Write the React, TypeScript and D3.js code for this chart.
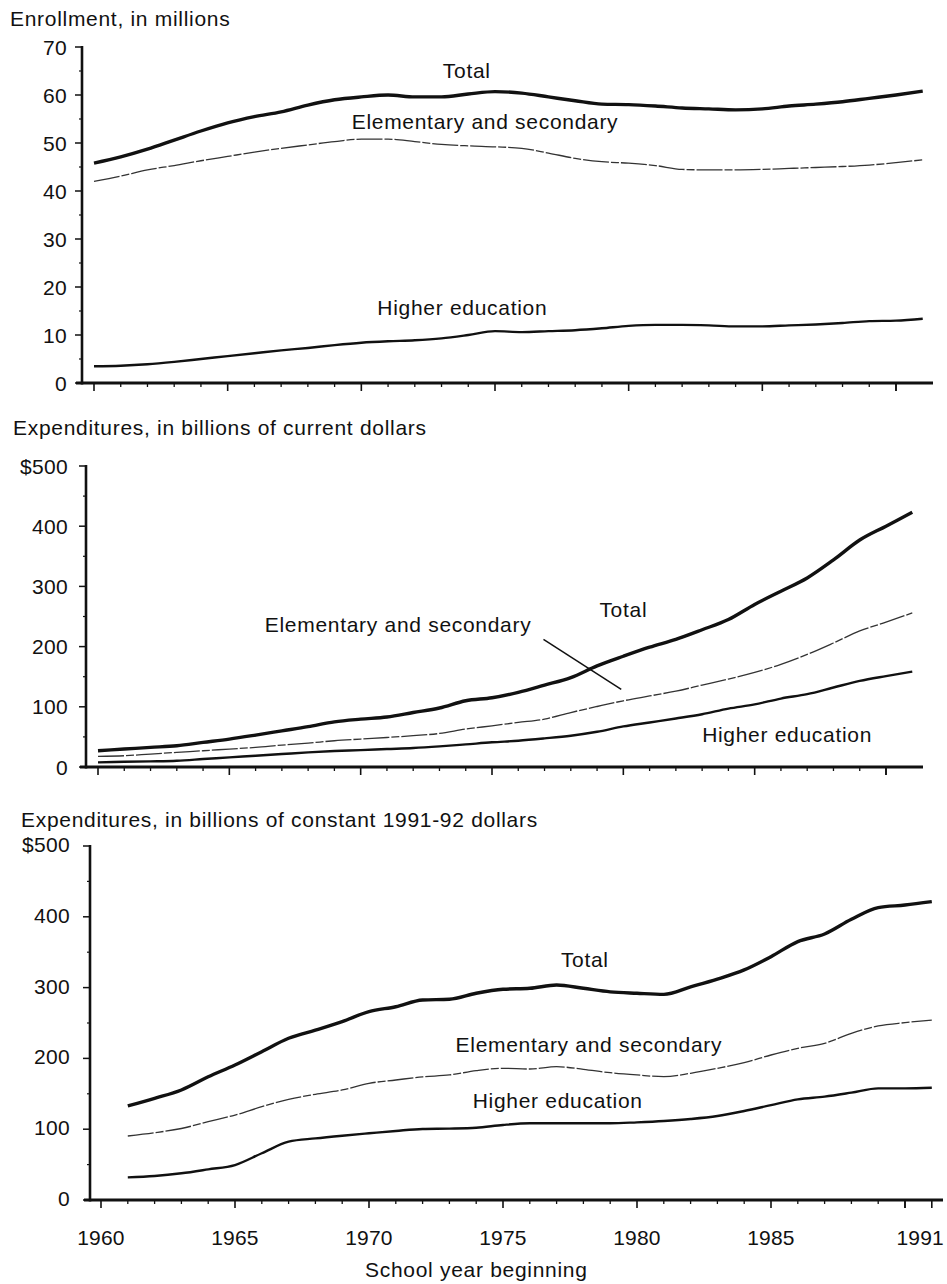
import React from 'react';
import * as d3 from 'd3';

// school years shown in the first two panels
const years = [
  1960, 1961, 1962, 1963, 1964, 1965, 1966, 1967, 1968, 1969, 1970,
  1971, 1972, 1973, 1974, 1975, 1976, 1977, 1978, 1979, 1980,
  1981, 1982, 1983, 1984, 1985, 1986, 1987, 1988, 1989, 1990, 1991,
];
// constant-dollar series start one year later
const yearsConst = years.slice(1);

// Enrollment, in millions
const enrollTotal = [45.8, 47.1, 48.7, 50.6, 52.5, 54.2, 55.5, 56.5, 57.9, 59.0, 59.6, 60.0, 59.6, 59.6, 60.2, 60.7, 60.4, 59.6, 58.8, 58.1, 58.0, 57.7, 57.3, 57.1, 56.9, 57.1, 57.7, 58.1, 58.6, 59.3, 60.0, 60.8];
const enrollElSec = [42.0, 43.1, 44.4, 45.3, 46.3, 47.2, 48.1, 48.9, 49.6, 50.3, 50.8, 50.8, 50.3, 49.7, 49.4, 49.2, 48.9, 47.9, 46.8, 46.1, 45.8, 45.3, 44.5, 44.4, 44.4, 44.5, 44.7, 44.9, 45.1, 45.4, 45.9, 46.5];
const enrollHigher = [3.5, 3.6, 3.9, 4.4, 5.0, 5.6, 6.2, 6.8, 7.3, 7.9, 8.4, 8.7, 8.9, 9.3, 10.0, 10.8, 10.6, 10.8, 11.0, 11.4, 11.9, 12.1, 12.1, 12.0, 11.8, 11.8, 12.0, 12.2, 12.5, 12.9, 13.0, 13.4];

// Expenditures, billions of current dollars
const curTotal = [27, 29.8, 32.6, 35.3, 40.9, 46.4, 53, 60, 67, 75, 79.5, 83, 90.5, 98, 110, 115, 124, 136, 148.5, 168, 184, 199, 212, 228, 245, 270, 292, 314, 344, 377, 400, 423];
const curElSec = [17.7, 18.7, 21.5, 24.3, 27, 29.8, 32.6, 36.4, 39.7, 43.6, 46.4, 49, 52, 55.7, 63, 68.4, 74, 79.5, 90.5, 100.5, 110, 118, 126, 136, 146, 157, 170.5, 187, 206, 226, 240.6, 256];
const curHigher = [7.7, 8.6, 9.4, 10.5, 13.2, 16, 18.7, 21.5, 24.3, 26.5, 28, 29.8, 31.5, 34.2, 37.5, 41, 43.6, 47.5, 52, 58.5, 67.4, 74, 80.6, 87.7, 97, 104, 113.7, 121, 132, 143, 151, 158.4];

// Expenditures, billions of constant 1991-92 dollars
const constTotal = [132.8, 143.6, 155.4, 174, 190.7, 209.5, 228.4, 240, 252, 266, 273, 282.5, 283.5, 292, 297.6, 299, 303.7, 299, 294, 292, 290.5, 301, 312, 325, 343.7, 365, 375.7, 396.4, 413, 416.6, 421.4];
const constElSec = [90.4, 95, 101, 110.6, 120, 131.8, 142.2, 149.3, 155.4, 164.8, 169.5, 174, 176.6, 182.7, 186, 185, 188.3, 184.6, 179.8, 176.6, 174.2, 179, 186, 194, 204.8, 214.2, 221.3, 235.4, 245.8, 250.5, 254];
const constHigher = [32, 33.9, 37.7, 43.3, 49.4, 66, 82.4, 87, 90.8, 94.2, 97.5, 100.3, 100.8, 102, 106, 108.3, 108.3, 108.3, 108.3, 109.7, 111.6, 114.4, 118.6, 125.7, 134, 142.2, 146, 151.6, 157.7, 157.7, 158.6];

// axis ticks
const enrollTicks = [0, 10, 20, 30, 40, 50, 60, 70];
const dollarTicks = [0, 100, 200, 300, 400, 500];
const yearTickLabels = [1960, 1965, 1970, 1975, 1980, 1985, 1991];

const FONT = "'Liberation Sans', Arial, Helvetica, sans-serif";
const INK = '#111';

type Label = { text: string; year: number; value: number };

type PanelProps = {
  title: string;
  titleX: number;
  titleY: number;
  xRange: [number, number];
  yRange: [number, number];
  yMax: number;
  yTicks: number[];
  yFormat: (v: number) => string;
  axisX: number;
  axisEnd: number;
  labelGap: number;
  labelDy: number;
  lastMajor: number[];
  xs: number[];
  total: number[];
  elsec: number[];
  higher: number[];
  labels: Label[];
  leader?: [number, number, number, number];
  showYearLabels?: boolean;
};

const Panel = (p: PanelProps) => {
  const x = d3.scaleLinear().domain([1960, 1990]).range(p.xRange);
  const y = d3.scaleLinear().domain([0, p.yMax]).range(p.yRange);
  const y0 = y(0);
  const line = (vals: number[]) =>
    d3.line<number>()
      .x((_, i) => x(p.xs[i]))
      .y((d) => y(d))
      .curve(d3.curveMonotoneX)(vals) || '';

  const step = p.yTicks[1] - p.yTicks[0];
  const minorY = p.yTicks.slice(1).map((t) => t - step / 2);
  const xTickYears = d3.range(1960, 1991);
  const lastLabel = yearTickLabels[yearTickLabels.length - 1];

  return (
    <g>
      <text x={p.titleX} y={p.titleY} fontSize={21} letterSpacing={0.7} fill={INK}>
        {p.title}
      </text>
      {/* y axis */}
      <line x1={p.axisX} x2={p.axisX} y1={y(p.yMax) - 1} y2={y0 + 1.5} stroke={INK} strokeWidth={2.6} />
      {p.yTicks.map((t) => (
        <g key={'y' + t}>
          <line x1={p.axisX - 7} x2={p.axisX} y1={y(t)} y2={y(t)} stroke={INK} strokeWidth={1.5} />
          <text x={p.axisX - p.labelGap} y={y(t) + p.labelDy} textAnchor="end" fontSize={21} letterSpacing={0.3} fill={INK}>
            {p.yFormat(t)}
          </text>
        </g>
      ))}
      {minorY.map((t) => (
        <line key={'ym' + t} x1={p.axisX - 3} x2={p.axisX} y1={y(t)} y2={y(t)} stroke={INK} strokeWidth={1.2} />
      ))}
      {/* x axis */}
      <line x1={p.axisX - 6} x2={p.axisEnd} y1={y0} y2={y0} stroke={INK} strokeWidth={3} />
      {xTickYears.map((yr) => {
        const major = yr % 5 === 0;
        return (
          <line key={'x' + yr} x1={x(yr)} x2={x(yr)} y1={y0} y2={y0 + (major ? 8 : 4)} stroke={INK} strokeWidth={major ? 1.6 : 1.3} />
        );
      })}
      {p.lastMajor.map((yr) => (
        <line key={'xl' + yr} x1={x(yr)} x2={x(yr)} y1={y0} y2={y0 + 8} stroke={INK} strokeWidth={1.6} />
      ))}
      {p.showYearLabels &&
        yearTickLabels.map((yr) => (
          <text
            key={'xt' + yr}
            x={yr === lastLabel ? p.axisEnd + 1 : x(yr)}
            y={y0 + 45}
            textAnchor={yr === lastLabel ? 'end' : 'middle'}
            fontSize={21}
            letterSpacing={0.2}
            fill={INK}
          >
            {yr}
          </text>
        ))}
      {/* series */}
      <path d={line(p.higher)} fill="none" stroke={INK} strokeWidth={2.4} strokeLinejoin="round" />
      <path d={line(p.elsec)} fill="none" stroke="#333" strokeWidth={1.3} strokeDasharray="26 2 8 2" strokeLinejoin="round" />
      <path d={line(p.total)} fill="none" stroke={INK} strokeWidth={3.4} strokeLinejoin="round" />
      {p.leader && (
        <line
          x1={x(p.leader[0])} y1={y(p.leader[1])}
          x2={x(p.leader[2])} y2={y(p.leader[3])}
          stroke={INK} strokeWidth={1.5}
        />
      )}
      {p.labels.map((l) => (
        <text key={l.text} x={x(l.year)} y={y(l.value)} fontSize={21} letterSpacing={0.7} fill={INK}>
          {l.text}
        </text>
      ))}
    </g>
  );
};

export default function App() {
  return (
    <div style={{ position: 'absolute', left: 0, top: 0 }}>
      <svg width={947} height={1284} style={{ display: 'block', background: '#fff', fontFamily: FONT }}>
        <Panel
          title="Enrollment, in millions"
          titleX={10}
          titleY={26}
          xRange={[94, 896]}
          yRange={[383, 47]}
          yMax={70}
          yTicks={enrollTicks}
          yFormat={(v) => String(v)}
          axisX={82}
          axisEnd={933}
          labelGap={15}
          labelDy={7.5}
          lastMajor={[1990]}
          xs={years}
          total={enrollTotal}
          elsec={enrollElSec}
          higher={enrollHigher}
          labels={[
            { text: 'Total', year: 1973.05, value: 63.5 },
            { text: 'Elementary and secondary', year: 1969.64, value: 52.9 },
            { text: 'Higher education', year: 1970.6, value: 14.2 },
          ]}
        />
        <Panel
          title="Expenditures, in billions of current dollars"
          titleX={13}
          titleY={435}
          xRange={[98, 886]}
          yRange={[767, 466]}
          yMax={500}
          yTicks={dollarTicks}
          yFormat={(v) => (v === 500 ? '$500' : String(v))}
          axisX={86}
          axisEnd={923}
          labelGap={18}
          labelDy={7.5}
          lastMajor={[1990]}
          xs={years}
          total={curTotal}
          elsec={curElSec}
          higher={curHigher}
          leader={[1976.96, 212, 1979.92, 129]}
          labels={[
            { text: 'Total', year: 1979.09, value: 250 },
            { text: 'Elementary and secondary', year: 1966.35, value: 223.5 },
            { text: 'Higher education', year: 1983.0, value: 41.4 },
          ]}
        />
        <Panel
          title="Expenditures, in billions of constant 1991-92 dollars"
          titleX={21}
          titleY={827}
          xRange={[101, 905]}
          yRange={[1200, 846]}
          yMax={500}
          yTicks={dollarTicks}
          yFormat={(v) => (v === 500 ? '$500' : String(v))}
          axisX={90}
          axisEnd={943}
          labelGap={20}
          labelDy={6}
          lastMajor={[1990, 1991]}
          xs={yearsConst}
          total={constTotal}
          elsec={constElSec}
          higher={constHigher}
          showYearLabels
          labels={[
            { text: 'Total', year: 1977.16, value: 329 },
            { text: 'Elementary and secondary', year: 1973.23, value: 209 },
            { text: 'Higher education', year: 1973.87, value: 130 },
          ]}
        />
        <text x={365} y={1277} fontSize={21} letterSpacing={0.7} fill={INK}>
          School year beginning
        </text>
      </svg>
    </div>
  );
}
